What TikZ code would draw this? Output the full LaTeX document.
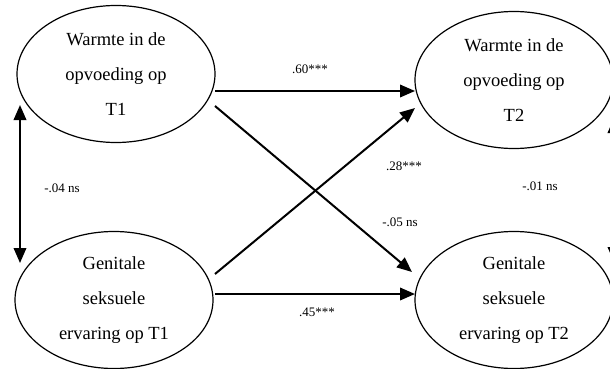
\documentclass[tikz,border=0pt]{standalone}
\usepackage{fontspec}
\setmainfont{Liberation Serif}
\usetikzlibrary{arrows.meta,shapes.geometric,calc}
\begin{document}
\begin{tikzpicture}[x=1pt,y=-1pt,
  latent/.style={draw,ellipse,line width=1.2pt,minimum width=198pt,minimum height=137pt,inner sep=0pt,align=center,font=\fontsize{18.5}{35}\selectfont},
  path/.style={line width=2pt,-{Triangle[length=15pt,width=12.5pt]}},
  both/.style={line width=2pt,{Triangle[length=15pt,width=12.5pt]}-{Triangle[length=15pt,width=12.5pt]}},
  coef/.style={font=\fontsize{13}{15}\selectfont,inner sep=0pt}]
\useasboundingbox (0,0) rectangle (610,369);
\node[latent] (w1) at (116,74) {Warmte in de\\opvoeding op\\T1};
\node[latent] (w2) at (514,80) {Warmte in de\\opvoeding op\\T2};
\node[latent] (g1) at (114,300) {Genitale\\seksuele\\ervaring op T1};
\node[latent] (g2) at (514,300) {Genitale\\seksuele\\ervaring op T2};
\coordinate (la) at (20,105);
\coordinate (lb) at (20,263);
\coordinate (ra) at (614,118);
\coordinate (rb) at (614,262);
\draw[path] ($(w1.center)+(99,17)$) -- ($(w2.center)+(-99,11)$);
\draw[path] ($(w1.center)+(99,32)$) -- ($(g2.center)+(-102,-28)$);
\draw[path] ($(g1.center)+(101,-26)$) -- ($(w2.center)+(-99,28)$);
\draw[path] ($(g1.center)+(101,-6)$) -- ($(g2.center)+(-99,-6)$);
\draw[both] (la) -- (lb);
\draw[both] (ra) -- (rb);
\node[coef] (c1) at (310,69) {.60***};
\node[coef] (c2) at (404,166) {.28***};
\node[coef] (c3) at (400,222) {-.05 ns};
\node[coef] (c4) at (317,312) {.45***};
\node[coef] (c5) at (62,188) {-.04 ns};
\node[coef] (c6) at (540,186) {-.01 ns};
\end{tikzpicture}
\end{document}
